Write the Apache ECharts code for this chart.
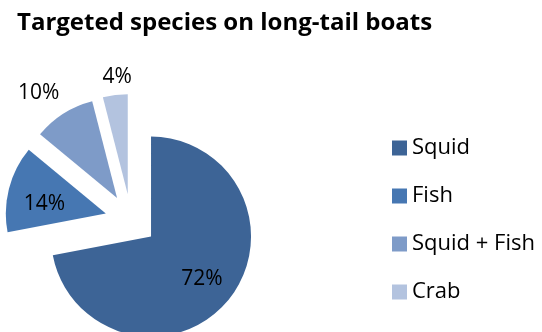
<!DOCTYPE html>
<html><head><meta charset="utf-8">
<script src="https://cdn.jsdelivr.net/npm/echarts@6/dist/echarts.min.js"></script>
<style>html,body{margin:0;padding:0;background:#fff}#c{width:542px;height:332px}</style>
</head><body><div id="c"></div>
<script>
const categories = ['Squid', 'Fish', 'Squid + Fish', 'Crab'];
const values = [72, 14, 10, 4];
const colors = ['#3D6496', '#4677B2', '#7E9BC8', '#B3C3DF'];
const labelShift = [[10, 9], [-10, 4], [-50, -60], [-4, -65]];

const chart = echarts.init(document.getElementById('c'), null, {renderer: 'canvas'});
chart.setOption({
  animation: false,
  backgroundColor: '#fff',
  title: {
    text: 'Targeted species on long-tail boats',
    left: 12, top: 6,
    textStyle: {fontFamily: 'Open Sans', fontWeight: 'bold', fontSize: 24, color: '#000'}
  },
  legend: {
    orient: 'vertical', left: 387, top: 132,
    itemWidth: 15, itemHeight: 15, itemGap: 26, icon: 'rect',
    selectedMode: false,
    textStyle: {fontFamily: 'Open Sans', fontSize: 22, lineHeight: 22, color: '#000'},
    data: categories
  },
  series: [{
    type: 'pie',
    center: [131, 220], radius: 100,
    startAngle: 90, clockwise: true,
    selectedMode: 'multiple', selectedOffset: 26,
    avoidLabelOverlap: false,
    emphasis: {disabled: true},
    select: {itemStyle: {borderWidth: 0}},
    label: {show: true, position: 'inside', formatter: '{d}%', fontFamily: 'Open Sans', fontSize: 21, color: '#000'},
    labelLine: {show: false},
    labelLayout: function (p) { const s = labelShift[p.dataIndex]; return {dx: s[0], dy: s[1]}; },
    data: categories.map((n, i) => ({name: n, value: values[i], selected: true, itemStyle: {color: colors[i]}}))
  }]
});
</script></body></html>
